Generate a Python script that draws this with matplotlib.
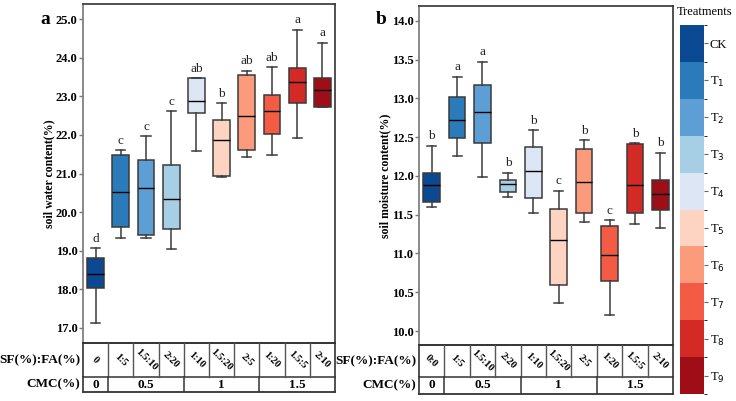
import matplotlib
matplotlib.use("Agg")
import matplotlib.pyplot as plt
import matplotlib.colors as mcolors
import matplotlib.colorbar as mcolorbar
import numpy as np

plt.rcParams['font.family'] = ['Liberation Serif', 'DejaVu Serif']

treatments = ["CK", "T$_1$", "T$_2$", "T$_3$", "T$_4$", "T$_5$", "T$_6$", "T$_7$", "T$_8$", "T$_9$"]
colors = ['#0b4a92', '#2b7bba', '#5d9fd5', '#a6cee4', '#dde6f5',
          '#fdd4c2', '#fc9b7b', '#f45b45', '#d42a26', '#9f0d17']

sf_fa_a = ["0", "1:5", "1.5:10", "2:20", "1:10", "1.5:20", "2:5", "1:20", "1.5:5", "2:10"]
sf_fa_b = ["0:0", "1:5", "1.5:10", "2:20", "1:10", "1.5:20", "2:5", "1:20", "1.5:5", "2:10"]
cmc_levels = ["0", "0.5", "1", "1.5"]
cmc_spans = [1, 3, 3, 3]

# panel a: soil water content (%)  [whislo, q1, med, q3, whishi]
water_whislo = [17.12, 19.33, 19.32, 19.05, 21.59, 20.92, 21.43, 21.49, 21.91, 22.72]
water_q1     = [18.04, 19.62, 19.40, 19.55, 22.57, 20.93, 21.60, 22.02, 22.83, 22.73]
water_med    = [18.39, 20.53, 20.63, 20.33, 22.89, 21.88, 22.48, 22.62, 23.36, 23.15]
water_q3     = [18.82, 21.48, 21.35, 21.23, 23.47, 22.38, 23.54, 23.03, 23.74, 23.47]
water_whishi = [19.06, 21.60, 21.97, 22.62, 23.47, 22.82, 23.66, 23.76, 24.72, 24.39]
water_letters = ["d", "c", "c", "c", "ab", "b", "ab", "ab", "a", "a"]

# panel b: soil moisture content (%)
moist_whislo = [11.60, 12.26, 11.98, 11.73, 11.52, 10.36, 11.40, 10.21, 11.38, 11.33]
moist_q1     = [11.66, 12.49, 12.43, 11.79, 11.72, 10.59, 11.52, 10.65, 11.52, 11.56]
moist_med    = [11.88, 12.72, 12.82, 11.90, 12.06, 11.17, 11.92, 10.98, 11.88, 11.77]
moist_q3     = [12.04, 13.02, 13.17, 11.95, 12.37, 11.57, 12.35, 11.36, 12.41, 11.95]
moist_whishi = [12.39, 13.28, 13.47, 12.04, 12.59, 11.81, 12.46, 11.43, 12.42, 12.30]
moist_letters = ["b", "a", "a", "b", "b", "c", "b", "c", "b", "b"]

W, H = 736, 401
fig = plt.figure(figsize=(W / 100, H / 100), dpi=100)

def fr(x0, y0, x1, y1):
    return [x0 / W, 1 - y1 / H, (x1 - x0) / W, (y1 - y0) / H]

edge = '#3a3a3a'

def panel(xl, xr, top, tbl_top, tbl_mid, tbl_bot, whislo, q1, med, q3, whishi,
          letters, ylim, yticks, ylabel, letter, labels, ylabel_x, letter_off):
    ax = fig.add_axes(fr(xl, top, xr, tbl_top))
    stats = []
    for i in range(len(med)):
        stats.append(dict(whislo=whislo[i], q1=q1[i], med=med[i], q3=q3[i],
                          whishi=whishi[i], fliers=[]))
    pos = np.arange(len(med))
    bp = ax.bxp(stats, positions=pos, widths=0.66, patch_artist=True,
                showfliers=False,
                boxprops=dict(edgecolor=edge, linewidth=1.1),
                whiskerprops=dict(color=edge, linewidth=1.1),
                capprops=dict(color=edge, linewidth=1.1),
                medianprops=dict(color='black', linewidth=1.0),
                capwidths=0.36)
    for patch, c in zip(bp['boxes'], colors):
        patch.set_facecolor(c)
    rng = ylim[1] - ylim[0]
    for i, t in enumerate(letters):
        ax.text(pos[i], whishi[i] + rng * 0.01, t, ha='center', va='bottom',
                fontsize=9.5, color='#222222')
    ax.set_xlim(-0.5, len(med) - 0.5)
    ax.set_ylim(*ylim)
    ax.set_xticks([])
    ax.set_yticks(yticks)
    ax.set_yticklabels(["%.1f" % v for v in yticks], fontsize=9, fontweight='bold')
    ax.tick_params(axis='y', length=3, width=1, color='#777777', pad=1)
    for s in ['top', 'right', 'bottom']:
        ax.spines[s].set_color('#333333')
        ax.spines[s].set_linewidth(1.2)
    ax.spines['left'].set_color('#777777')
    ax.spines['left'].set_linewidth(1.2)
    fig.text(ylabel_x / W, 1 - ((top + tbl_top) / 2) / H, ylabel, rotation=90,
             ha='center', va='center', fontsize=8.5, fontweight='bold')
    fig.text((xl - letter_off) / W, 1 - 19 / H, letter, ha='center', va='center',
             fontsize=14, fontweight='bold')

    # table
    at = fig.add_axes(fr(xl, tbl_top, xr, tbl_bot))
    at.set_xlim(-0.5, len(med) - 0.5)
    at.set_ylim(0, 1)
    at.axis('off')
    mid = (tbl_bot - tbl_mid) / (tbl_bot - tbl_top)
    lc = '#333333'
    at.plot([-0.5, len(med) - 0.5], [mid, mid], color=lc, lw=1.1, clip_on=False)
    at.plot([-0.5, len(med) - 0.5], [0, 0], color=lc, lw=1.3, clip_on=False)
    at.plot([-0.5, len(med) - 0.5], [1, 1], color=lc, lw=1.2, clip_on=False)
    at.plot([-0.5, -0.5], [0, 1], color=lc, lw=1.2, clip_on=False)
    at.plot([len(med) - 0.5] * 2, [0, 1], color=lc, lw=1.2, clip_on=False)
    for k in range(1, len(med)):
        at.plot([k - 0.5, k - 0.5], [mid, 1], color='#555555', lw=1.0)
    for i, lab in enumerate(labels):
        at.text(pos[i], (mid + 1) / 2, lab, rotation=-45, ha='center', va='center',
                fontsize=7.5, fontweight='bold', rotation_mode='anchor')
    start = 0
    for lev, sp in zip(cmc_levels, cmc_spans):
        if start > 0:
            at.plot([start - 0.5, start - 0.5], [0, mid], color=lc, lw=1.1)
        at.text(start + (sp - 1) / 2, mid / 2, lev, ha='center', va='center',
                fontsize=9.5, fontweight='bold')
        start += sp
    fig.text((xl - 3) / W, 1 - ((tbl_top + tbl_mid) / 2) / H, "SF(%):FA(%)",
             ha='right', va='center', fontsize=9.5, fontweight='bold')
    fig.text((xl - 3) / W, 1 - ((tbl_mid + tbl_bot) / 2) / H, "CMC(%)",
             ha='right', va='center', fontsize=9.5, fontweight='bold')
    return ax

panel(83, 335, 4, 343, 377, 392, water_whislo, water_q1, water_med, water_q3,
      water_whishi, water_letters, (16.61, 25.39),
      [17.0, 18.0, 19.0, 20.0, 21.0, 22.0, 23.0, 24.0, 25.0],
      "soil water content(%)", "a", sf_fa_a, 49, 38)
panel(419, 673, 6, 345, 377, 394, moist_whislo, moist_q1, moist_med, moist_q3,
      moist_whishi, moist_letters, (9.82, 14.19),
      [10.0, 10.5, 11.0, 11.5, 12.0, 12.5, 13.0, 13.5, 14.0],
      "soil moisture content(%)", "b", sf_fa_b, 385, 38)

# colorbar legend
cax = fig.add_axes(fr(680, 25, 704, 394))
cmap = mcolors.ListedColormap(colors[::-1])
norm = mcolors.BoundaryNorm(np.arange(len(colors) + 1), len(colors))
cb = mcolorbar.ColorbarBase(cax, cmap=cmap, norm=norm, orientation='vertical')
cb.outline.set_visible(False)
cb.set_ticks(np.arange(len(colors)) + 0.5)
cb.set_ticklabels(treatments[::-1])
cax.tick_params(length=3, width=0.8, color='#666666', labelsize=9, pad=1)
fig.text(705 / W, 1 - 12 / H, "Treatments", ha='center', va='center', fontsize=9)

fig.savefig("out.png", dpi=100)
